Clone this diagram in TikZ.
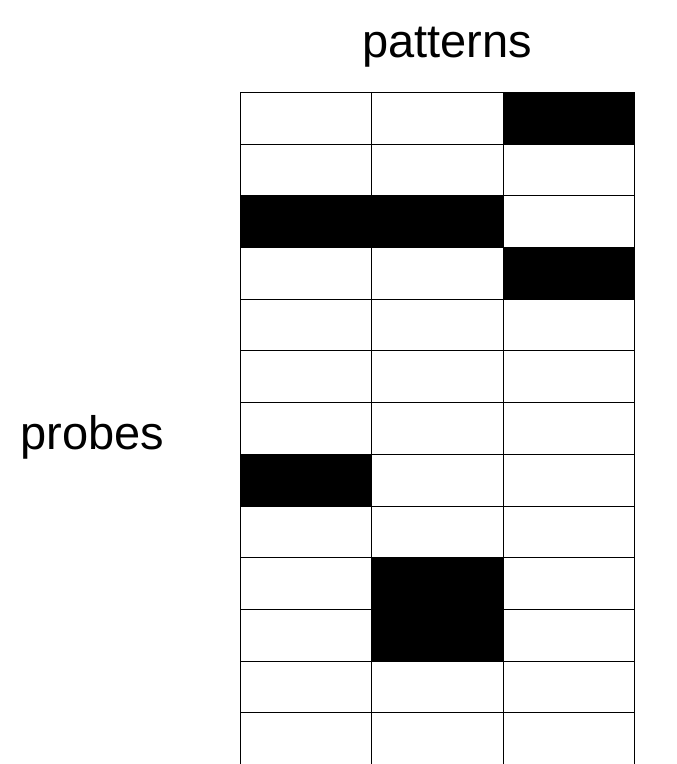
\documentclass[tikz,border=0pt]{standalone}
\usepackage{fontspec}
\setmainfont{Liberation Sans}
\usetikzlibrary{positioning}

\begin{document}
\begin{tikzpicture}[x=1pt,y=1pt,
  cell/.style={draw,line width=0.9pt,minimum width=131.33pt,minimum height=51.69pt,inner sep=0pt,anchor=north west},
  hit/.style={cell,fill=black},
  lbl/.style={font=\fontsize{47}{56}\selectfont,inner sep=0pt,anchor=base}]
\useasboundingbox (0,0) rectangle (677,764);
% 13 probes x 3 patterns
\foreach \r in {0,...,12}
  \foreach \c in {0,1,2}
    \node[cell] (c-\r-\c) at (240+\c*131.33, 672-\r*51.69) {};
% matches
\foreach \r/\c in {0/2,2/0,2/1,3/2,7/0,9/1,10/1}
  \node[hit] (h-\r-\c) at (c-\r-\c.north west) {};
\node[lbl] (patterns) at (447,706) {patterns};
\node[lbl] (probes) at (92.4,314) {probes};
\end{tikzpicture}
\end{document}
